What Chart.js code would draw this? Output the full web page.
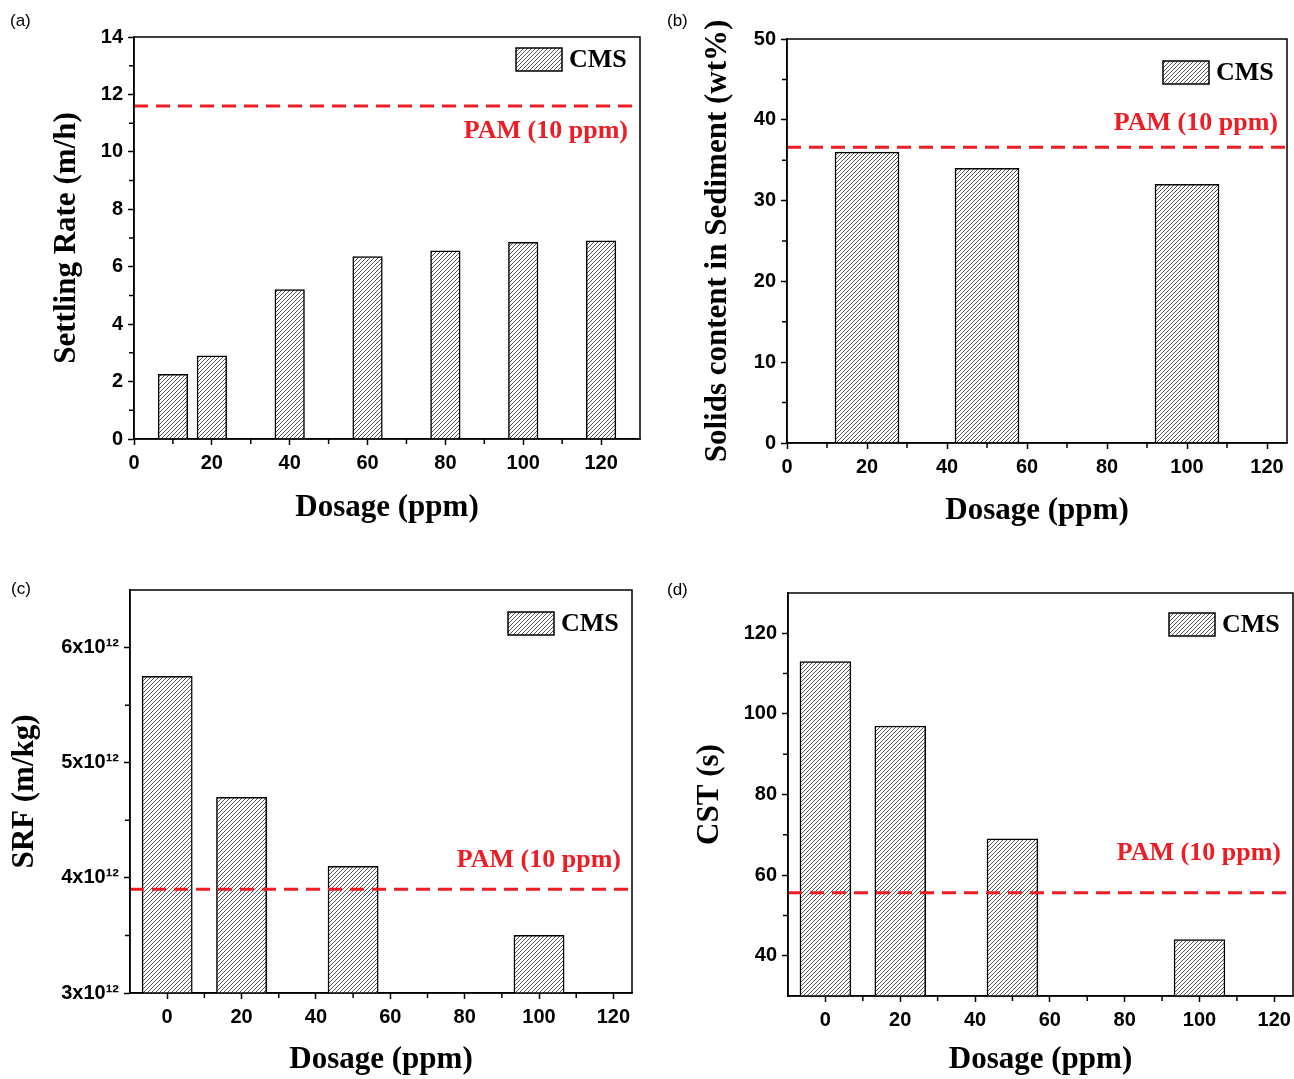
<!DOCTYPE html>
<html>
<head>
<meta charset="utf-8">
<script src="https://cdn.jsdelivr.net/npm/chart.js@4.4.1/dist/chart.umd.min.js"></script>
<style>
  body { margin: 0; background: #fff; width: 1294px; height: 1079px; position: relative; overflow: hidden; }
  canvas { position: absolute; }
</style>
</head>
<body>
<canvas id="chart-a" width="647" height="540" style="left:0;top:0"></canvas>
<canvas id="chart-b" width="647" height="540" style="left:647px;top:0"></canvas>
<canvas id="chart-c" width="647" height="539" style="left:0;top:540px"></canvas>
<canvas id="chart-d" width="647" height="539" style="left:647px;top:540px"></canvas>
<script>
/* CMS vs PAM flocculation — 4 panels, hatched bars + dashed PAM reference */

// (a) settling rate
const DOSE_A = [10, 20, 40, 60, 80, 100, 120];
const RATE_A = [2.25, 2.9, 5.2, 6.35, 6.55, 6.85, 6.9];
const PAM_A = 11.6;

// (b) solids content in sediment
const DOSE_B = [20, 50, 100];
const SOLIDS_B = [36, 34, 32];
const PAM_B = 36.6;

// (c) specific resistance to filtration
const DOSE_C = [0, 20, 50, 100];
const SRF_C = [5.75e12, 4.7e12, 4.1e12, 3.5e12];
const PAM_C = 3.9e12;

// (d) capillary suction time
const DOSE_D = [0, 20, 50, 100];
const CST_D = [113, 97, 69, 44];
const PAM_D = 55.6;

const SERIF = "'Liberation Serif', 'Times New Roman', serif";
const SANS = "'Liberation Sans', Arial, sans-serif";
const RED = "#ee1c24";

function hatchPattern() {
    const c = document.createElement("canvas");
    c.width = c.height = 4;
    const g = c.getContext("2d");
    g.fillStyle = "#fff";
    g.fillRect(0, 0, 4, 4);
    g.strokeStyle = "#555";
    g.lineWidth = 1;
    g.beginPath();
    g.moveTo(-1, 5); g.lineTo(5, -1);
    g.moveTo(-1, 1); g.lineTo(1, -1);
    g.moveTo(3, 5); g.lineTo(5, 3);
    g.stroke();
    return g.createPattern(c, "repeat");
}
const HATCH = hatchPattern();

// major tick values: every multiple of step inside [min, max]
function majors(min, max, step) {
    const out = [];
    for (let k = Math.ceil(min / step - 1e-9); k * step <= max * (1 + 1e-12); k++) out.push({ value: k * step });
    return out;
}

/* box, minor ticks, panel tag, PAM label, legend */
const decor = {
    id: "decor",
    afterDraw(chart, _args, o) {
        const { ctx, chartArea: a, scales } = chart;
        const xs = scales.x, ys = scales.y;
        ctx.save();
        ctx.strokeStyle = "#000";
        ctx.lineWidth = 1.5;
        ctx.beginPath();
        const hx = o.xStep / 2;
        for (let k = Math.ceil(xs.min / hx); k * hx <= xs.max; k++) {
            const v = k * hx;
            if (k % 2 === 0 || v === xs.min || v === xs.max) continue;
            const p = xs.getPixelForValue(v);
            ctx.moveTo(p, a.bottom); ctx.lineTo(p, a.bottom + 5);
        }
        const hy = o.yStep / 2;
        for (let k = Math.ceil(ys.min / hy - 1e-9); k * hy <= ys.max * (1 + 1e-12); k++) {
            const v = k * hy;
            if (k % 2 === 0 || v === ys.min || v === ys.max) continue;
            const p = ys.getPixelForValue(v);
            ctx.moveTo(a.left, p); ctx.lineTo(a.left - 5, p);
        }
        ctx.stroke();
        ctx.strokeRect(a.left, a.top, a.right - a.left, a.bottom - a.top);

        // panel tag
        ctx.fillStyle = "#000";
        ctx.font = `17px ${SANS}`;
        ctx.textAlign = "left";
        ctx.textBaseline = "middle";
        ctx.fillText(o.tag, o.tagX, o.tagY);

        // PAM label
        ctx.fillStyle = RED;
        ctx.font = `bold 26px ${SERIF}`;
        ctx.textAlign = "right";
        ctx.fillText("PAM (10 ppm)", a.right - o.pamDx, ys.getPixelForValue(o.pam) + o.pamDy);

        // legend
        const ds = chart.data.datasets[0];
        const bx = a.right - 78 - 46, by = a.top + o.legTop;
        ctx.fillStyle = ds.backgroundColor;
        ctx.fillRect(bx, by, 46, 23);
        ctx.lineWidth = 1.5;
        ctx.strokeRect(bx, by, 46, 23);
        ctx.fillStyle = "#000";
        ctx.textAlign = "left";
        ctx.fillText(ds.label, bx + 53, by + 12);
        ctx.restore();
    },
};

function makePanel(id, cfg) {
    const bars = cfg.dose.map((d, i) => ({ x: d, y: cfg.values[i] }));
    return new Chart(document.getElementById(id), {
        type: "bar",
        data: {
            datasets: [
                {
                    label: "CMS",
                    data: bars,
                    backgroundColor: HATCH,
                    borderColor: "#000",
                    borderWidth: 1.5,
                    barThickness: (c) => {
                        const s = c.chart.scales.x;
                        return s.getPixelForValue(cfg.barW) - s.getPixelForValue(0);
                    },
                    order: 1,
                },
                {
                    type: "line",
                    label: "PAM (10 ppm)",
                    data: [{ x: cfg.xMin, y: cfg.pam }, { x: cfg.xMax, y: cfg.pam }],
                    borderColor: RED,
                    borderWidth: 3,
                    borderDash: [14, 8],
                    pointRadius: 0,
                    order: 0,
                },
            ],
        },
        options: {
            responsive: false,
            animation: false,
            devicePixelRatio: 1,
            layout: { padding: { left: 0, top: cfg.top, right: cfg.right, bottom: 0 } },
            scales: {
                x: {
                    type: "linear",
                    min: cfg.xMin,
                    max: cfg.xMax,
                    offset: false,
                    afterBuildTicks: (s) => { s.ticks = majors(cfg.xMin, cfg.xMax, 20); },
                    afterFit: (s) => { s.height = cfg.xH; s.paddingLeft = 0; s.paddingRight = 0; },
                    ticks: {
                        autoSkip: false,
                        maxRotation: 0,
                        padding: 6,
                        color: "#000",
                        font: { family: SANS, size: 20, weight: "bold" },
                    },
                    grid: { drawOnChartArea: false, offset: false, tickLength: 6, tickWidth: 1.5, tickColor: "#000" },
                    border: { color: "#000", width: 1.5 },
                    title: {
                        display: true,
                        text: "Dosage (ppm)",
                        color: "#000",
                        font: { family: SERIF, size: 31, weight: "bold" },
                        padding: { top: 0, bottom: cfg.xTitlePad },
                    },
                },
                y: {
                    min: cfg.yMin,
                    max: cfg.yMax,
                    afterBuildTicks: (s) => { s.ticks = majors(cfg.yMin, cfg.yMax, cfg.yStep); },
                    afterFit: (s) => { s.width = cfg.yW; },
                    ticks: {
                        autoSkip: false,
                        padding: 5,
                        color: "#000",
                        font: { family: SANS, size: 20, weight: "bold" },
                        callback: cfg.yFmt || ((v) => v),
                    },
                    grid: { drawOnChartArea: false, tickLength: 6, tickWidth: 1.5, tickColor: "#000" },
                    border: { color: "#000", width: 1.5 },
                    title: {
                        display: true,
                        text: cfg.yTitle,
                        color: "#000",
                        font: { family: SERIF, size: 31, weight: "bold" },
                        padding: { top: cfg.yTitlePad, bottom: 0 },
                    },
                },
            },
            plugins: {
                legend: { display: false },
                tooltip: { enabled: false },
                decor: {
                    tag: cfg.tag, tagX: cfg.tagX, tagY: cfg.tagY,
                    xStep: 20, yStep: cfg.yStep,
                    pam: cfg.pam, pamDx: cfg.pamDx, pamDy: cfg.pamDy,
                    legTop: cfg.legTop,
                },
            },
        },
        plugins: [decor],
    });
}

makePanel("chart-a", {
    dose: DOSE_A, values: RATE_A, pam: PAM_A, barW: 7.6,
    xMin: 0, xMax: 130, yMin: 0, yMax: 14, yStep: 2,
    yTitle: "Settling Rate (m/h)",
    top: 37, right: 7, yW: 134, xH: 101, yTitlePad: 48, xTitlePad: 13,
    tag: "(a)", tagX: 10, tagY: 21, pamDx: 12, pamDy: 25, legTop: 11,
});

makePanel("chart-b", {
    dose: DOSE_B, values: SOLIDS_B, pam: PAM_B, barW: 16,
    xMin: 0, xMax: 125, yMin: 0, yMax: 50, yStep: 10,
    yTitle: "Solids content in Sediment (wt%)",
    top: 39, right: 7, yW: 140, xH: 97, yTitlePad: 52, xTitlePad: 10,
    tag: "(b)", tagX: 20, tagY: 21, pamDx: 9, pamDy: -24, legTop: 22,
});

makePanel("chart-c", {
    dose: DOSE_C, values: SRF_C, pam: PAM_C, barW: 13.5,
    xMin: -10, xMax: 125, yMin: 3e12, yMax: 6.5e12, yStep: 1e12,
    yFmt: (v) => `${Math.round(v / 1e12)}x10\u00b9\u00b2`,
    yTitle: "SRF (m/kg)",
    top: 50, right: 15, yW: 130, xH: 86, yTitlePad: 6, xTitlePad: 0,
    tag: "(c)", tagX: 11, tagY: 49, pamDx: 11, pamDy: -29, legTop: 22,
});

makePanel("chart-d", {
    dose: DOSE_D, values: CST_D, pam: PAM_D, barW: 13.6,
    xMin: -10, xMax: 125, yMin: 30, yMax: 130, yStep: 20,
    yTitle: "CST (s)",
    top: 53, right: 1, yW: 141, xH: 83, yTitlePad: 44, xTitlePad: 0,
    tag: "(d)", tagX: 20, tagY: 50, pamDx: 12, pamDy: -40, legTop: 20,
});
</script>
</body>
</html>
